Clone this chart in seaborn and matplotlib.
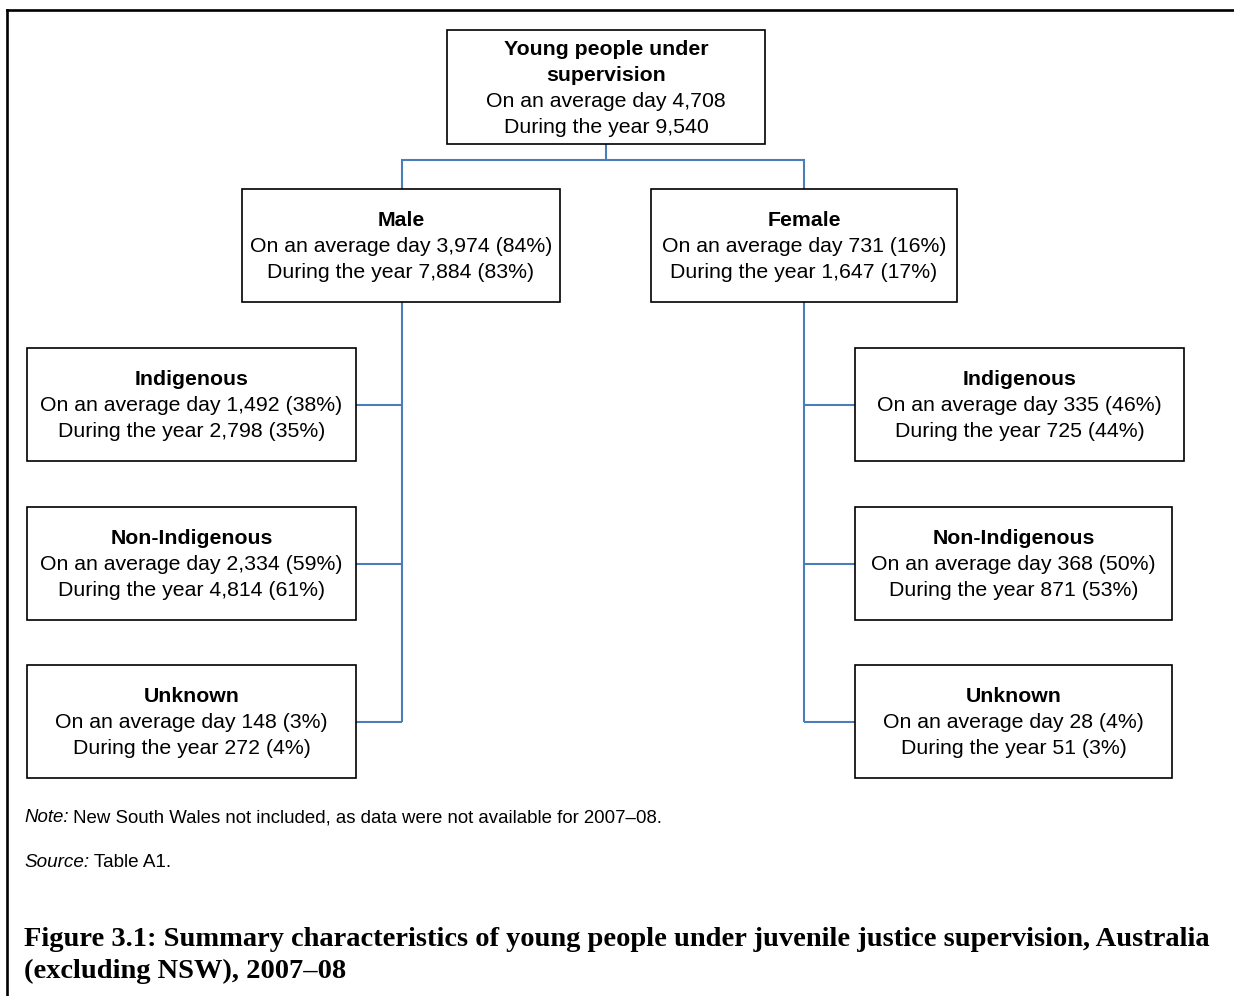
import matplotlib
matplotlib.use("Agg")
import matplotlib.pyplot as plt
from matplotlib.patches import Rectangle
import seaborn as sns

# ---------------- data ----------------
top_title = ["Young people under", "supervision"]
top_avg_day = 4708
top_year = 9540

sex_labels = ["Male", "Female"]
sex_avg_day = [3974, 731]
sex_avg_pct = [84, 16]
sex_year = [7884, 1647]
sex_year_pct = [83, 17]

group_labels = ["Indigenous", "Non-Indigenous", "Unknown"]
male_avg_day = [1492, 2334, 148]
male_avg_pct = [38, 59, 3]
male_year = [2798, 4814, 272]
male_year_pct = [35, 61, 4]
female_avg_day = [335, 368, 28]
female_avg_pct = [46, 50, 4]
female_year = [725, 871, 51]
female_year_pct = [44, 53, 3]

note_text = "New South Wales not included, as data were not available for 2007\u201308."
source_text = "Table A1."
caption_lines = ["Figure 3.1: Summary characteristics of young people under juvenile justice supervision, Australia",
                 "(excluding NSW), 2007\u201308"]

# ---------------- style ----------------
sns.set_theme(style="white", rc={"text.color": "black"})
plt.rcParams["font.family"] = ["Liberation Sans", "DejaVu Sans"]
plt.rcParams["text.color"] = "black"

W, H = 1234, 996
fig = plt.figure(figsize=(W / 100, H / 100), dpi=100)
ax = fig.add_axes([0, 0, 1, 1])
ax.set_xlim(0, W)
ax.set_ylim(H, 0)
ax.axis("off")

BLUE = "#4a7ebb"
FS = 15.3
LW_BOX = 1.2
LW_CONN = 1.5


def box(x0, x1, y0, y1, lines):
    ax.add_patch(Rectangle((x0, y0), x1 - x0, y1 - y0, fill=False,
                           edgecolor="black", lw=LW_BOX, zorder=3))
    cx = (x0 + x1) / 2
    n = len(lines)
    base = y0 + (y1 - y0) / 2 + 6.5 - 26 * (n - 1) / 2
    for i, (txt, bold) in enumerate(lines):
        ax.text(cx, base + 26 * i, txt, ha="center", va="baseline",
                fontsize=FS, fontweight="bold" if bold else "normal",
                color="black", zorder=4)


def conn(xs, ys):
    ax.plot(xs, ys, color=BLUE, lw=LW_CONN, solid_capstyle="butt",
            solid_joinstyle="miter", zorder=2)


# outer frame
ax.plot([7, W], [10, 10], color="black", lw=1.9, solid_capstyle="projecting")
ax.plot([7, 7], [10, H], color="black", lw=1.9, solid_capstyle="projecting")

# top box
box(447, 765, 30, 144, [(top_title[0], True), (top_title[1], True),
                        (f"On an average day {top_avg_day:,}", False),
                        (f"During the year {top_year:,}", False)])

sex_x = [(242, 560), (651, 957)]
trunk = [402, 804]
conn([606, 606], [144, 160])
conn([trunk[0], trunk[0], trunk[1], trunk[1]], [189, 160, 160, 189])

for i, (x0, x1) in enumerate(sex_x):
    box(x0, x1, 189, 302, [(sex_labels[i], True),
                           (f"On an average day {sex_avg_day[i]:,} ({sex_avg_pct[i]}%)", False),
                           (f"During the year {sex_year[i]:,} ({sex_year_pct[i]}%)", False)])

rows = [(348, 461), (507, 620), (665, 778)]
left_x = [(27, 356), (27, 356), (27, 356)]
right_x = [(855, 1184), (855, 1172), (855, 1172)]

conn([trunk[0], trunk[0]], [302, (rows[2][0] + rows[2][1]) / 2])
conn([trunk[1], trunk[1]], [302, (rows[2][0] + rows[2][1]) / 2])

for j, (y0, y1) in enumerate(rows):
    ym = (y0 + y1) / 2
    lx0, lx1 = left_x[j]
    rx0, rx1 = right_x[j]
    conn([lx1, trunk[0]], [ym, ym])
    conn([trunk[1], rx0], [ym, ym])
    box(lx0, lx1, y0, y1, [(group_labels[j], True),
                           (f"On an average day {male_avg_day[j]:,} ({male_avg_pct[j]}%)", False),
                           (f"During the year {male_year[j]:,} ({male_year_pct[j]}%)", False)])
    box(rx0, rx1, y0, y1, [(group_labels[j], True),
                           (f"On an average day {female_avg_day[j]:,} ({female_avg_pct[j]}%)", False),
                           (f"During the year {female_year[j]:,} ({female_year_pct[j]}%)", False)])

# ---------------- notes and caption ----------------
renderer = fig.canvas.get_renderer()


def width_of(t):
    return t.get_window_extent(renderer).width


def fitted_pair(x, y, lab, body, target, size0=12.0):
    t1 = ax.text(x, y, lab, fontsize=size0, style="italic", va="baseline",
                 ha="left", color="black")
    t2 = ax.text(x, y, body, fontsize=size0, va="baseline", ha="left",
                 color="black")
    w = width_of(t1) + width_of(t2)
    s = size0 * target / w
    t1.set_fontsize(s)
    t2.set_fontsize(s)
    t2.set_x(x + width_of(t1))
    return s


fitted_pair(24, 822, "Note:", " " + note_text, 639)
fitted_pair(24, 867, "Source:", " " + source_text, 148)

cap_font = ["Liberation Serif", "DejaVu Serif"]
c1 = ax.text(24, 946, caption_lines[0], fontsize=18, fontweight="bold",
             family=cap_font, va="baseline", ha="left", color="black")
s = 18 * 1183 / width_of(c1)
c1.set_fontsize(s)
ax.text(24, 978, caption_lines[1], fontsize=s, fontweight="bold",
        family=cap_font, va="baseline", ha="left", color="black")

fig.savefig("out.png", dpi=100, facecolor="white")
